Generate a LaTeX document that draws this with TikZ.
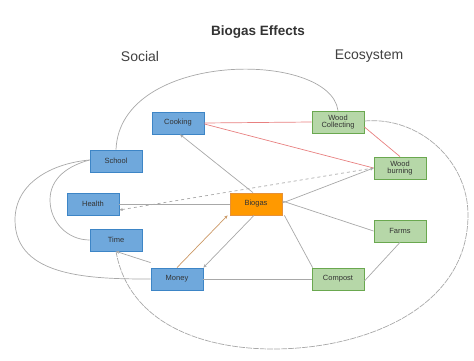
\documentclass[tikz,border=0pt]{standalone}
\usepackage{fontspec}
\setmainfont{Liberation Sans}
\usetikzlibrary{arrows.meta}
\definecolor{bfill}{HTML}{6FA8DC}
\definecolor{bdraw}{HTML}{3D85C6}
\definecolor{gfill}{HTML}{B6D7A8}
\definecolor{gdraw}{HTML}{6AA84F}
\definecolor{ofill}{HTML}{FF9900}
\definecolor{odraw}{HTML}{E69138}
\definecolor{edge}{HTML}{A8A8A8}
\definecolor{redge}{HTML}{E88080}
\tikzset{
  box/.style={draw, line width=0.8pt, minimum width=52pt, minimum height=22pt, inner sep=1pt, align=center, font=\fontsize{7.5}{7.5}\selectfont, text=black!80},
  social/.style={box, fill=bfill, draw=bdraw},
  eco/.style={box, fill=gfill, draw=gdraw},
  core/.style={box, fill=ofill, draw=odraw},
  link/.style={draw=edge, line width=0.7pt},
  rlink/.style={draw=redge, line width=0.7pt},
  tip/.style={-{Stealth[length=3.5pt,width=3pt]}},
  lbl/.style={font=\fontsize{14}{15}\selectfont, text=black!75}
}
\begin{document}
\begin{tikzpicture}[x=1pt,y=-1pt]
\useasboundingbox (0,0) rectangle (474,361);
\node[font=\bfseries\fontsize{13.5}{14}\selectfont, text=black!80] (title) at (258,32) {Biogas Effects};
\node[lbl] (soc) at (140,56) {Social};
\node[lbl] (eco) at (369,56) {Ecosystem};

\node[social] (cook) at (178,123) {Cooking};
\node[eco] (wc) at (338,122) {Wood\\Collecting};
\node[social] (school) at (116,161) {School};
\node[eco] (wb) at (400,168) {Wood\\burning};
\node[social] (health) at (93,204) {Health};
\node[core] (bio) at (256,204) {Biogas};
\node[eco] (farms) at (400,231) {Farms};
\node[social] (time) at (116,240) {Time};
\node[social] (money) at (177,279) {Money};
\node[eco] (compost) at (338,279) {Compost};

% red links
\draw[rlink] (cook.east) -- (wc.west);
\draw[rlink] ([yshift=-1pt]cook.east) -- (wb.west);
\draw[rlink] ([yshift=-5pt]wc.east) -- (wb.north);

% gray links
\draw[link,tip] ([xshift=-3pt]bio.north) -- ([xshift=2pt]cook.south);
\draw[link,tip] ([yshift=1pt]bio.east) -- (wb.west);
\draw[link,dashed,tip] (wb.west) -- ([yshift=-6pt]health.east);
\draw[link] (bio.west |- health.east) -- (health.east);
\draw[link] ([yshift=3pt]bio.east) -- (farms.west);
\draw[link] ([xshift=2pt]bio.south east) -- ([xshift=1pt]compost.north west);
\draw[link] (farms.south) -- ([yshift=-2pt]compost.east);
\draw[link] (money.east) -- (compost.west);
\draw[link,draw=orange!40!edge,tip] (money.north) -- ([xshift=-2pt]bio.south west);
\draw[link,tip] ([xshift=-2pt]bio.south) -- (money.north east);
\draw[link,tip] ([yshift=5pt]money.north west) -- (time.south);

% curves
\draw[link] (school.north) .. controls (120,50) and (330,50) .. (wc.north);
\draw[link,dashed,dash pattern=on 6pt off 1pt] ([yshift=1pt]wc.east) to[out=5,in=90] (468,215) to[out=-90,in=0] (273,349) to[out=180,in=-80] (time.south);
\draw[link] ([yshift=1pt]school.west) to[out=185,in=90] (15,220) to[out=-90,in=180] (money.west);
\draw[link] ([yshift=1pt]school.west) to[out=195,in=90] (50,200) to[out=-90,in=180] (time.west);
\end{tikzpicture}
\end{document}
